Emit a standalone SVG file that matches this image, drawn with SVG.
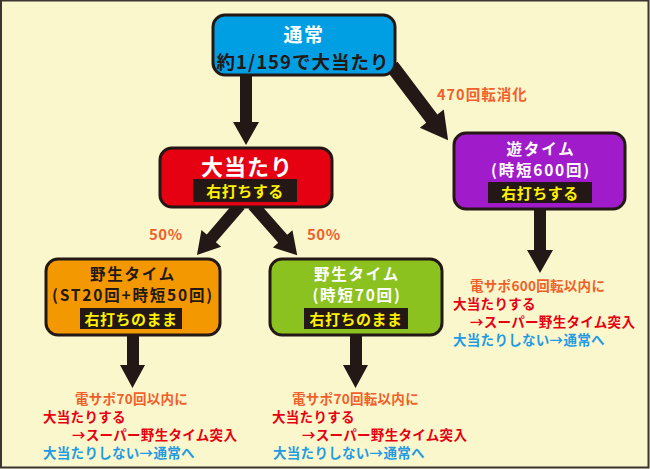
<svg xmlns="http://www.w3.org/2000/svg" width="650" height="469" viewBox="0 0 650 469">
<style>
text{font-family:"Noto Sans CJK JP","Noto Sans",sans-serif;font-weight:bold;}
.node{stroke:#231815;stroke-width:3;}
.arr{fill:#231815;}
.lab{fill:#231815;}
.t-w{fill:#ffffff;}
.t-k{fill:#231815;}
.t-y{fill:#fff100;font-size:15px;letter-spacing:0.5px;}
.org{fill:#f0602a;}
.red{fill:#e60012;}
.blu{fill:#1e9be2;}
.note{font-size:13.5px;letter-spacing:0.3px;}
.nt{font-size:15.5px;letter-spacing:1.8px;}
</style>
<rect x="0" y="0" width="650" height="469" fill="#fbf7cc"/>
<path d="M1,0.5 H648.5 V467.5 H1 Z" fill="none" stroke="#3a3530" stroke-width="2"/>
<g id="connectors">
<polygon class="arr" points="240,75 252,75 252,122 259,122 246,145 233,122 240,122"/>
<polygon class="arr" transform="translate(392,66) rotate(-37.1)" points="-7,0 7,0 7,66 15,66 0,93 -15,66 -7,66"/>
<polygon class="arr" transform="translate(240,205) rotate(40.7)" points="-6,0 6,0 6,44 13,44 0,66 -13,44 -6,44"/>
<polygon class="arr" transform="translate(253,205) rotate(-41.3)" points="-6,0 6,0 6,45 13,45 0,67 -13,45 -6,45"/>
<polygon class="arr" points="534,209 546,209 546,250 553,250 540,273 527,250 534,250"/>
<polygon class="arr" points="127,335 139,335 139,365 145,365 132.5,388 120,365 127,365"/>
<polygon class="arr" points="350,335 362,335 362,365 368,365 355.5,388 343,365 350,365"/>
<text class="org" x="437" y="100" font-size="14.5" letter-spacing="1">470回転消化</text>
<text class="org" x="149" y="240" font-size="15" letter-spacing="0.5">50%</text>
<text class="org" x="307" y="240" font-size="15" letter-spacing="0.5">50%</text>
</g>
<g id="node-tsujo">
<rect class="node" x="213" y="15" width="182" height="60" rx="12" fill="#009fe3"/>
<text class="t-w" x="304" y="41.5" font-size="19" text-anchor="middle" letter-spacing="1.5">通常</text>
<text class="t-k" x="303" y="68.5" font-size="18.5" text-anchor="middle" letter-spacing="1">約1/159で大当たり</text>
</g>
<g id="node-ooatari">
<rect class="node" x="160" y="148" width="172" height="59" rx="12" fill="#e50012"/>
<text class="t-w" x="247" y="175" font-size="22" text-anchor="middle" letter-spacing="1">大当たり</text>
<rect class="lab" x="193" y="179" width="104" height="23"/>
<text class="t-y" x="245" y="197" text-anchor="middle">右打ちする</text>
</g>
<g id="node-asobi">
<rect class="node" x="454" y="133" width="171" height="76" rx="12" fill="#a01ccb"/>
<text class="t-w nt" x="541" y="155" text-anchor="middle">遊タイム</text>
<text class="t-w nt" x="541" y="176" text-anchor="middle">(時短600回)</text>
<rect class="lab" x="488" y="182" width="104" height="21"/>
<text class="t-y" x="540" y="199" text-anchor="middle">右打ちする</text>
</g>
<g id="node-yasei-left">
<rect class="node" x="46" y="259" width="174" height="76" rx="12" fill="#f39800"/>
<text class="t-k nt" x="133" y="280" text-anchor="middle">野生タイム</text>
<text class="t-k nt" x="133" y="301" text-anchor="middle" letter-spacing="1.2">(ST20回+時短50回)</text>
<rect class="lab" x="80" y="308" width="102" height="21"/>
<text class="t-y" x="131" y="325" text-anchor="middle">右打ちのまま</text>
</g>
<g id="node-yasei-right">
<rect class="node" x="270" y="259" width="172" height="76" rx="12" fill="#8cc21f"/>
<text class="t-w nt" x="357" y="280" text-anchor="middle">野生タイム</text>
<text class="t-w nt" x="357" y="301" text-anchor="middle">(時短70回)</text>
<rect class="lab" x="304" y="308" width="104" height="21"/>
<text class="t-y" x="356" y="325" text-anchor="middle">右打ちのまま</text>
</g>
<g id="result-left">
<text class="org note" x="75" y="404">電サポ70回以内に</text>
<text class="red note" x="43" y="422">大当たりする</text>
<text class="red note" x="72" y="440">→スーパー野生タイム突入</text>
<text class="blu note" x="43" y="458">大当たりしない→通常へ</text>
</g>
<g id="result-right">
<text class="org note" x="292" y="404">電サポ70回転以内に</text>
<text class="red note" x="272" y="422">大当たりする</text>
<text class="red note" x="302" y="440">→スーパー野生タイム突入</text>
<text class="blu note" x="273" y="458">大当たりしない→通常へ</text>
</g>
<g id="result-asobi">
<text class="org note" x="470" y="291">電サポ600回転以内に</text>
<text class="red note" x="453" y="309">大当たりする</text>
<text class="red note" x="470" y="327">→スーパー野生タイム突入</text>
<text class="blu note" x="453" y="345">大当たりしない→通常へ</text>
</g>
</svg>
